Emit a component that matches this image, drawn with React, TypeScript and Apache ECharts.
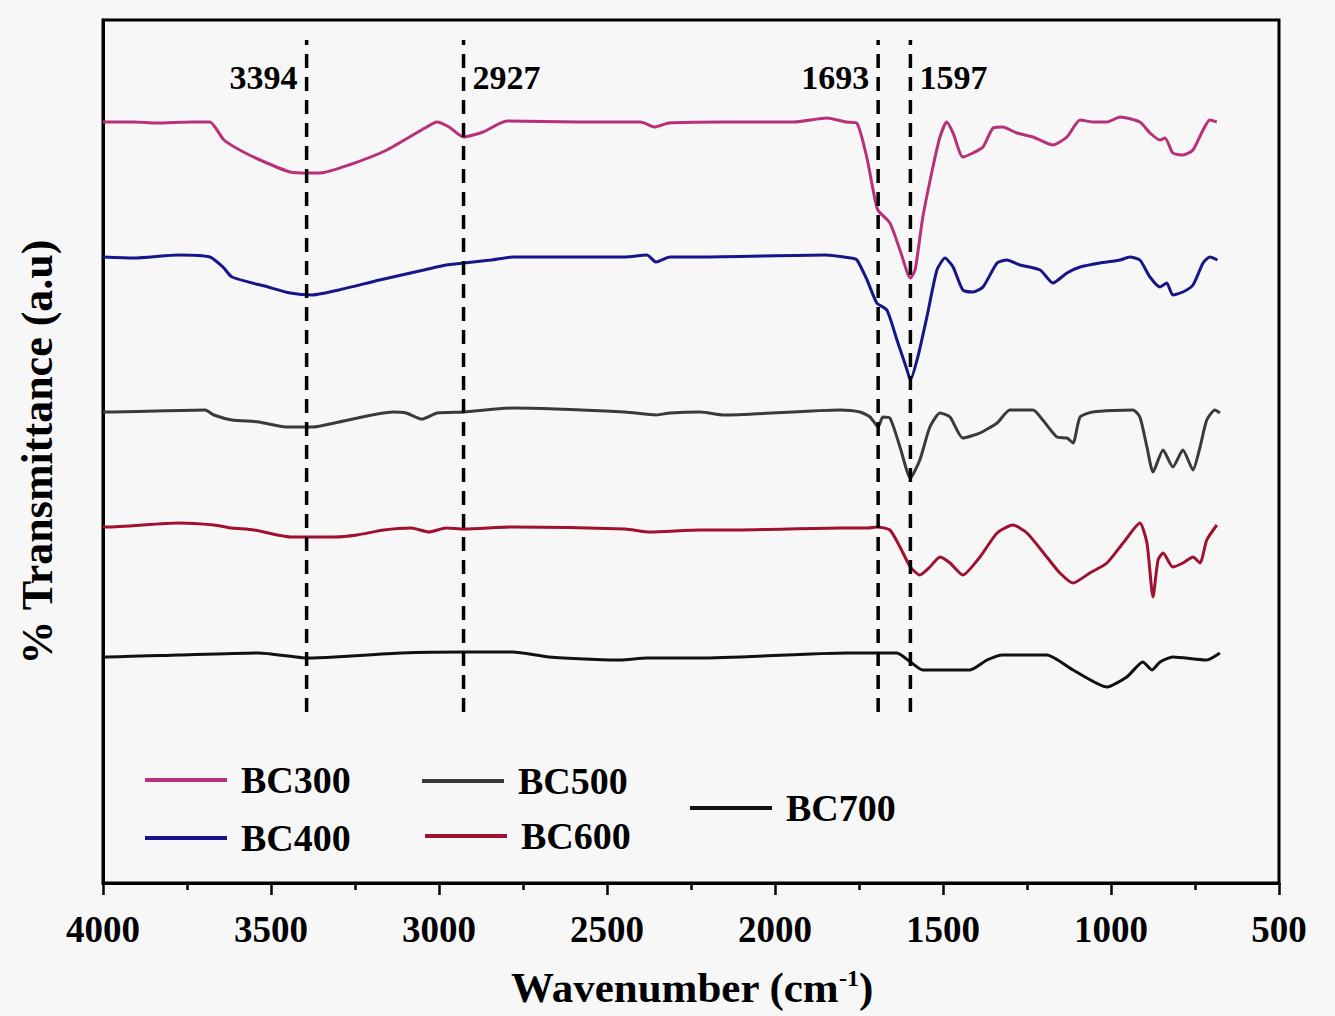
import { useEffect, useRef } from 'react';
import * as echarts from 'echarts';

const FONT = "'Liberation Serif', 'Times New Roman', serif";

const seriesNames = ['BC300', 'BC400', 'BC500', 'BC600', 'BC700'];
const seriesColors = ['#b8307a', '#16168a', '#3a3a3a', '#a01030', '#111111'];

// [wavenumber (cm-1), transmittance (a.u., offset-stacked)]
const bc300 = [[4000,761],[3988,761],[3909,761],[3839,760],[3738,761],[3682,761],[3640,743],[3582,731],[3512,720],[3443,711],[3394,710],[3354,710],[3268,718],[3155,733],[3042,755],[3006,761],[2970,756],[2927,746],[2869,751],[2798,762],[2586,761],[2400,761],[2357,756],[2316,760],[2158,761],[1944,761],[1845,765],[1789,761],[1757,760],[1727,726],[1708,693],[1694,673],[1658,660],[1628,633],[1597,605],[1583,613],[1560,666],[1530,716],[1509,746],[1489,761],[1470,750],[1441,726],[1411,730],[1381,736],[1351,755],[1322,756],[1280,750],[1232,746],[1173,738],[1131,746],[1092,763],[1054,761],[1012,761],[973,766],[914,761],[884,750],[854,743],[839,745],[816,730],[786,728],[756,733],[726,753],[706,763],[685,761]];

const bc400 = [[4000,626],[3908,625],[3775,628],[3682,626],[3643,616],[3616,606],[3509,596],[3443,590],[3377,588],[3298,593],[3177,603],[3045,613],[2979,618],[2926,620],[2845,623],[2780,626],[2447,626],[2381,628],[2354,621],[2313,626],[2223,626],[1851,628],[1774,625],[1756,623],[1726,603],[1697,580],[1667,573],[1637,543],[1607,513],[1597,503],[1575,526],[1548,566],[1518,613],[1494,625],[1470,616],[1441,593],[1411,591],[1381,596],[1339,620],[1310,623],[1271,618],[1211,613],[1173,600],[1131,610],[1092,616],[1033,620],[973,623],[944,626],[914,623],[884,606],[854,596],[834,600],[816,588],[786,591],[756,598],[726,620],[706,626],[683,623]];

const bc500 = [[4000,471],[3988,471],[3696,473],[3670,468],[3616,463],[3536,461],[3455,456],[3377,456],[3298,461],[3137,471],[3098,470],[3051,464],[3005,470],[2926,471],[2780,475],[2447,471],[2354,468],[2313,470],[2223,471],[2152,468],[1807,473],[1747,471],[1717,466],[1693,456],[1679,466],[1658,465],[1628,436],[1597,405],[1569,423],[1539,456],[1509,470],[1479,466],[1441,445],[1390,450],[1339,460],[1301,473],[1232,473],[1203,463],[1161,446],[1131,445],[1113,440],[1092,466],[1054,471],[935,473],[914,466],[893,436],[875,411],[845,433],[816,416],[786,433],[756,413],[735,436],[715,463],[691,473],[676,470]];

const bc600 = [[4000,356],[3988,356],[3775,360],[3670,358],[3616,355],[3551,353],[3443,346],[3310,346],[3244,348],[3164,353],[3083,355],[3030,351],[2979,355],[2926,354],[2780,356],[2447,354],[2372,351],[2223,353],[2113,353],[1807,355],[1723,355],[1697,356],[1658,353],[1628,336],[1597,316],[1569,308],[1539,316],[1509,326],[1479,320],[1441,308],[1390,326],[1339,350],[1292,358],[1250,350],[1191,326],[1152,310],[1113,300],[1063,310],[1012,320],[964,340],[914,360],[893,340],[875,286],[860,323],[845,330],[816,316],[786,320],[756,326],[735,320],[715,343],[685,358]];

const bc700 = [[4000,226],[3988,226],[3775,228],[3536,230],[3390,225],[3310,226],[3110,230],[2926,231],[2780,231],[2673,226],[2460,223],[2381,225],[2223,225],[1787,230],[1697,230],[1637,230],[1597,221],[1560,213],[1420,213],[1369,223],[1322,228],[1191,228],[1113,213],[1012,196],[953,206],[905,221],[878,213],[854,221],[816,226],[715,223],[676,230]];

const seriesData = [bc300, bc400, bc500, bc600, bc700];

const peakWavenumbers = [3394, 2927, 1693, 1597];
const peakLabelSides = ['left', 'right', 'left', 'right'];
const dashBottom = 171;
const dashTop = 843;
const peakLabelLevel = 806;

const legendPlacement = [
  { left: 145, top: 761 },
  { left: 145, top: 819 },
  { left: 422, top: 762 },
  { left: 425, top: 817 },
  { left: 690, top: 789 },
];

export default function App() {
  const ref = useRef<HTMLDivElement>(null);
  useEffect(() => {
    const chart = echarts.init(ref.current as HTMLDivElement, null, { renderer: 'svg' });
    const textBase = { fontFamily: FONT, fontWeight: 'bold' as const, color: '#000' };

    const curveSeries = seriesNames.map((name, i) => ({
      name,
      type: 'line',
      data: seriesData[i],
      showSymbol: false,
      symbol: 'none',
      smooth: 0.2,
      color: seriesColors[i],
      lineStyle: { color: seriesColors[i], width: 3 },
      silent: true,
      z: 3,
    }));

    const dashSeries = peakWavenumbers.map((w) => ({
      name: 'peak' + w,
      type: 'line',
      data: [[w, dashBottom], [w, dashTop]],
      symbol: 'none',
      lineStyle: { color: '#000', width: 3.5, type: [14, 9] },
      silent: true,
      z: 4,
    }));

    const labelSeries = {
      name: 'peakLabels',
      type: 'scatter',
      symbolSize: 0,
      silent: true,
      itemStyle: { opacity: 1 },
      data: peakWavenumbers.map((w, i) => ({
        value: [w, peakLabelLevel],
        label: { position: peakLabelSides[i] },
      })),
      label: {
        show: true,
        distance: 9,
        opacity: 1,
        formatter: (p: any) => String(p.value[0]),
        fontSize: 34,
        ...textBase,
      },
      z: 5,
    };

    const legends = seriesNames.map((name, i) => ({
      data: [name],
      left: legendPlacement[i].left,
      top: legendPlacement[i].top,
      padding: 0,
      icon: 'rect',
      itemWidth: 82,
      itemHeight: 4,
      selectedMode: false,
      textStyle: { fontSize: 38, ...textBase, padding: [0, 0, 0, 9] },
    }));

    chart.setOption({
      animation: false,
      backgroundColor: '#f7f7f7',
      grid: {
        left: 103,
        right: 56,
        top: 20,
        bottom: 133,
        show: true,
        borderColor: '#000',
        borderWidth: 3,
        backgroundColor: 'transparent',
      },
      legend: legends,
      xAxis: {
        type: 'value',
        min: 500,
        max: 4000,
        interval: 500,
        inverse: true,
        axisLine: { show: true, lineStyle: { color: '#000', width: 3 } },
        axisTick: { show: true, length: 12, lineStyle: { color: '#000', width: 2.5 } },
        minorTick: { show: true, splitNumber: 2, length: 7, lineStyle: { color: '#000', width: 2.5 } },
        splitLine: { show: false },
        axisLabel: { fontSize: 37, margin: 28, formatter: (v: number) => String(v), ...textBase },
      },
      yAxis: {
        type: 'value',
        min: 0,
        max: 863,
        axisLine: { show: true, lineStyle: { color: '#000', width: 3 } },
        axisTick: { show: false },
        axisLabel: { show: false },
        splitLine: { show: false },
      },
      graphic: [
        {
          type: 'text',
          x: 37,
          y: 452,
          rotation: Math.PI / 2,
          style: {
            text: '% Transmittance (a.u)',
            fontSize: 44,
            fontWeight: 'bold',
            fontFamily: FONT,
            fill: '#000',
            align: 'center',
            verticalAlign: 'middle',
          },
        },
        {
          type: 'text',
          x: 692,
          y: 987,
          style: {
            text: 'Wavenumber (cm{sup|-1})',
            fontSize: 43,
            fontWeight: 'bold',
            fontFamily: FONT,
            fill: '#000',
            align: 'center',
            verticalAlign: 'middle',
            rich: {
              sup: { fontSize: 24, fontWeight: 'bold', fontFamily: FONT, fill: '#000', verticalAlign: 'top', padding: [0, 0, 16, 0] },
            },
          },
        },
      ],
      series: [...curveSeries, ...dashSeries, labelSeries],
    });
    return () => chart.dispose();
  }, []);
  return (
    <div
      ref={ref}
      style={{ position: 'fixed', left: 0, top: 0, width: 1335, height: 1016 }}
    />
  );
}
